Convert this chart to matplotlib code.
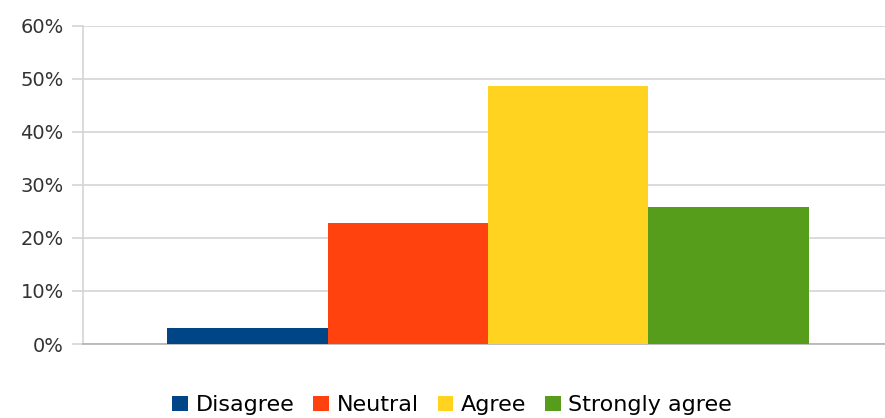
import matplotlib.pyplot as plt
from matplotlib.ticker import PercentFormatter

# 回答の分布
categories = ['Disagree', 'Neutral', 'Agree', 'Strongly agree']
shares = [3.0, 22.8, 48.7, 25.8]
colors = ['#004586', '#ff420e', '#ffd320', '#579d1c']

fig = plt.figure(figsize=(8.85, 4.18), dpi=100)
ax = fig.add_axes([0.094, 0.177, 0.906, 0.761])

width = 0.2
offsets = [(i - (len(categories) - 1) / 2) * width for i in range(len(categories))]
for off, cat, val, col in zip(offsets, categories, shares, colors):
    ax.bar(off, val, width=width, color=col, label=cat, zorder=3)

ax.set_xlim(-0.505, 0.495)
ax.set_ylim(0, 60)
ax.set_yticks(range(0, 61, 10))
ax.yaxis.set_major_formatter(PercentFormatter(decimals=0))
ax.set_xticks([])
ax.grid(axis='y', color='#d4d4d4', linewidth=1.2, zorder=0)
ax.tick_params(axis='y', length=8, width=1.2, color='#d4d4d4', pad=6,
               labelsize=14, labelcolor='#333333')

for side in ['top', 'right']:
    ax.spines[side].set_visible(False)
ax.spines['left'].set_color('#d4d4d4')
ax.spines['left'].set_linewidth(1.2)
ax.spines['bottom'].set_color('#b3b3b3')
ax.spines['bottom'].set_linewidth(1.2)

fig.legend(loc='center', bbox_to_anchor=(0.511, 0.03), ncol=4, frameon=False,
           fontsize=16, handlelength=0.7, handleheight=0.7, handletextpad=0.35,
           columnspacing=0.85)

fig.savefig('out.png', dpi=100)
